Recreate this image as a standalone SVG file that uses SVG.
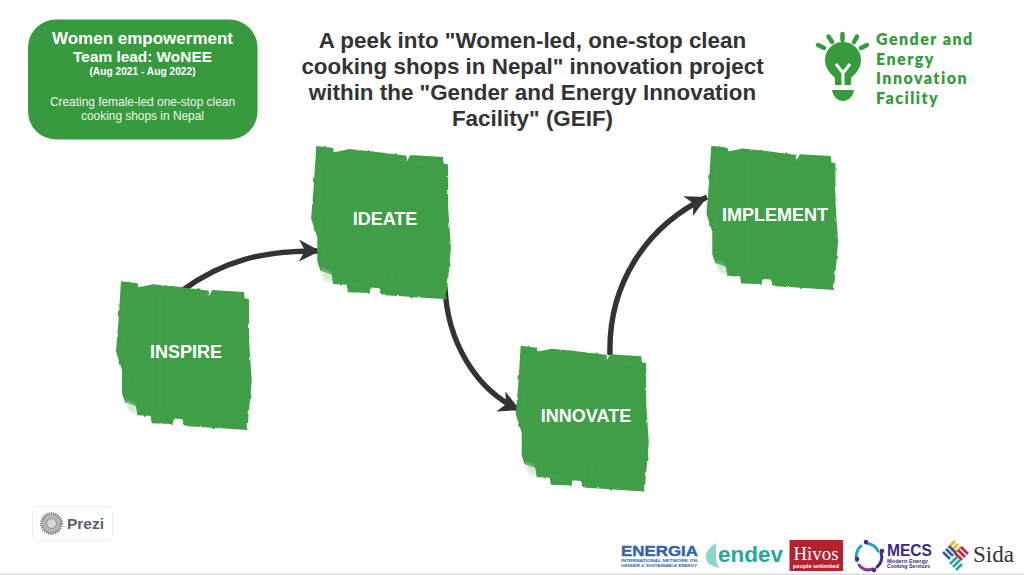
<svg xmlns="http://www.w3.org/2000/svg" width="1024" height="575" viewBox="0 0 1024 575">
<style>
text{font-family:"Liberation Sans",Arial,sans-serif}
.brush{fill:#409e47}
.streak{fill:none;stroke:#5cae60;stroke-opacity:.22}
.fade{fill:#a5d3a8;opacity:.5}
.lbl{font-weight:700;font-size:18px;fill:#fff;text-anchor:middle}
.title{font-weight:700;font-size:22.400px;fill:#333;text-anchor:middle}
.box{font-size:11.900px;fill:#eef6ee;text-anchor:middle}
text.geif{font-family:Lato,"Noto Sans",sans-serif;font-weight:800;font-size:16px;fill:#379a3d;letter-spacing:1.450px}
.conn{fill:none;stroke:#333;stroke-width:5.400}
</style>
<defs>
<filter id="rough" x="-5%" y="-5%" width="110%" height="110%">
<feTurbulence type="fractalNoise" baseFrequency=".2 .1" numOctaves="2" seed="4" result="n"/>
<feDisplacementMap in="SourceGraphic" in2="n" scale="2.500" xChannelSelector="R" yChannelSelector="G"/>
<feGaussianBlur stdDeviation=".4"/>
</filter>
<filter id="soft" x="-5%" y="-5%" width="110%" height="110%"><feGaussianBlur stdDeviation="1.800"/></filter>
<marker id="ah" markerUnits="userSpaceOnUse" markerWidth="24" markerHeight="24" refX="21" refY="11" orient="auto"><path d="M0 0 L21 11 L0 22 L6 11Z" fill="#333"/></marker>
<g id="sq">
<g filter="url(#rough)">
<path class="brush" d="M-1 0L15.300 2L17 6L31 3L53.700 5.300L85.300 9.300L87 14.700L90.300 8.700L122 10.700L122.700 17L127 18L127 58.700L129.700 98.700L125.300 148.700L63 144.700L60.300 138L52 137.300L50.300 142.700L29.700 142L28.700 134.700L15.300 134L13.700 124.700L3 121L0 112L0 88.700L-6 70.300L-3.500 39Z"/>
</g>
<path class="fade" filter="url(#soft)" d="M3 118L13 122L15 133L7 130Z"/>
<path class="streak" filter="url(#soft)" stroke-width="3" d="M4 12L1 60L6 105M38 16V125M80 14L112 18M72 135V118M24 132L44 136"/>
</g>
</defs>
<rect width="1024" height="575" fill="#fefefe"/>
<rect y="573.500" width="1024" height="1.500" fill="#dcdcdc"/>

<g id="connectors">
<path class="conn" marker-end="url(#ah)" d="M183 290C221 262 262 250 320 251"/>
<path class="conn" marker-end="url(#ah)" d="M445 287C447 340 475 390 520 410"/>
<path class="conn" marker-end="url(#ah)" d="M610 355C608 285 645 227 707 197"/>
</g>

<g id="node-team">
<rect x="28" y="19.500" width="229.500" height="120" rx="28" fill="#389a3e"/>
<text x="142.500" y="43.500" text-anchor="middle" font-size="17" font-weight="700" fill="#fff">Women empowerment</text>
<text x="142.500" y="62" text-anchor="middle" font-size="15.400" font-weight="700" fill="#fff">Team lead: WoNEE</text>
<text x="142.500" y="75" text-anchor="middle" font-size="10.200" font-weight="700" fill="#fff">(Aug 2021 - Aug 2022)</text>
<text class="box" x="142.500" y="106">Creating female-led one-stop clean</text>
<text class="box" x="142.500" y="120">cooking shops in Nepal</text>
</g>

<g id="title">
<text class="title" x="532.500" y="48">A peek into "Women-led, one-stop clean</text>
<text class="title" x="532.500" y="74">cooking shops in Nepal" innovation project</text>
<text class="title" x="532.500" y="100">within the "Gender and Energy Innovation</text>
<text class="title" x="532.500" y="126">Facility" (GEIF)</text>
</g>

<g id="logo-geif">
<g stroke="#379a3d" stroke-width="4.500" stroke-linecap="round" fill="none">
<path d="M818 45L824 48M828.500 36.500L832 42M842.500 34V40M857 36.500L854 42M867 45L861 48"/>
</g>
<path fill="#379a3d" d="M835 85V78C830 73 825 68 825 60A18 18 0 0 1 861 60C861 68 856 73 851 78V85Z"/>
<path d="M836 64L843 73L850 64M843 73V86" fill="none" stroke="#fff" stroke-width="3"/>
<path fill="#379a3d" d="M832 90H854C853 97 848 101 843 101C838 101 833 97 832 90Z"/>
<text class="geif" x="876" y="45">Gender and</text>
<text class="geif" x="876" y="64.700">Energy</text>
<text class="geif" x="876" y="84.400">Innovation</text>
<text class="geif" x="876" y="104">Facility</text>
</g>

<g id="node-inspire">
<use href="#sq" transform="translate(122 281.300)"/>
<text class="lbl" x="186" y="358">INSPIRE</text>
</g>
<g id="node-ideate">
<use href="#sq" transform="translate(317.300 146) scale(1.030)"/>
<text class="lbl" x="385" y="224.500">IDEATE</text>
</g>
<g id="node-innovate">
<use href="#sq" transform="translate(521.700 345.700) scale(.98)"/>
<text class="lbl" x="586" y="422">INNOVATE</text>
</g>
<g id="node-implement">
<use href="#sq" transform="translate(712.300 145.700) scale(.97)"/>
<text class="lbl" x="775" y="221">IMPLEMENT</text>
</g>

<g id="logo-prezi">
<rect x="32.500" y="506.500" width="80" height="34" rx="5" fill="#fff" stroke="#eee"/>
<circle cx="51.500" cy="523.500" r="10" fill="#b5b8bb" stroke="#7e8387" stroke-width="3" stroke-dasharray="1.200 1"/>
<circle cx="51.500" cy="523.500" r="5" fill="#d5d7d9" stroke="#8a8e92"/>
<text x="67" y="529" font-size="15.500" font-weight="700" fill="#566170">Prezi</text>
</g>

<g id="logos">
<text x="621" y="556" font-size="15.500" font-weight="700" fill="#2f63ad" stroke="#2f63ad" stroke-width=".4" textLength="77" lengthAdjust="spacingAndGlyphs">ENERGIA</text>
<text x="621" y="562.300" font-size="3.600" font-weight="700" fill="#2f63ad" textLength="76" lengthAdjust="spacingAndGlyphs">INTERNATIONAL NETWORK ON</text>
<text x="621" y="567" font-size="3.600" font-weight="700" fill="#2f63ad" textLength="76" lengthAdjust="spacingAndGlyphs">GENDER &amp; SUSTAINABLE ENERGY</text>
<path fill="#8ad8c8" d="M716 543C708 548 705 554 706 559C707 564 712 566 719 568C715 561 716 552 716 543Z"/>
<text x="718" y="562" font-size="22" font-weight="700" fill="#25a99a" textLength="65" lengthAdjust="spacingAndGlyphs">endev</text>
<rect x="789.500" y="540" width="53.500" height="31" fill="#b2232f"/>
<text x="816" y="560" text-anchor="middle" font-size="19" style="font-family:'Liberation Serif',serif" fill="#fff" textLength="45" lengthAdjust="spacingAndGlyphs">Hivos</text>
<text x="816" y="568" text-anchor="middle" font-size="5.800" font-weight="700" fill="#fff">people unlimited</text>
<g fill="none" stroke-width="3" stroke-linecap="round">
<path d="M866 543C872 544 876 546 878 551" stroke="#2d9fc0"/>
<path d="M881 553C883 558 881 564 877 567" stroke="#4a2c82"/>
<path d="M873 569C867 571 862 569 859 565" stroke="#8a3c96"/>
<path d="M857 561C855 556 857 549 861 546" stroke="#2d9fc0"/>
</g>
<g fill="#4a2c82"><circle cx="866" cy="542" r="2.300"/><circle cx="882" cy="551" r="2.300"/><circle cx="874" cy="570" r="2.300"/><circle cx="857" cy="559" r="2.300"/></g>
<text x="887" y="556" font-size="16.500" font-weight="700" fill="#3d2a7c" textLength="45" lengthAdjust="spacingAndGlyphs">MECS</text>
<text x="887" y="562.500" font-size="5.400" font-weight="700" fill="#3d2a7c" textLength="41" lengthAdjust="spacingAndGlyphs">Modern Energy</text>
<text x="887" y="568" font-size="5.400" font-weight="700" fill="#3d2a7c" textLength="43" lengthAdjust="spacingAndGlyphs">Cooking Services</text>
<g stroke-width="2.600" stroke-linecap="butt">
<path stroke="#f2b233" d="M948 548L955 541M951 551L958 544M954 554L961 547"/>
<path stroke="#b8284a" d="M958 550L965 557M961 547L968 554M955 553L962 560"/>
<path stroke="#2e5ea8" d="M943 552L950 559M946 549L953 556M949 546L956 553"/>
<path stroke="#27a59a" d="M950 564L957 557M953 567L960 560M956 570L962 564"/>
</g>
<text x="973" y="561.500" font-size="23" style="font-family:'Liberation Serif',serif" fill="#333" textLength="41" lengthAdjust="spacingAndGlyphs">Sida</text>
</g>
</svg>
